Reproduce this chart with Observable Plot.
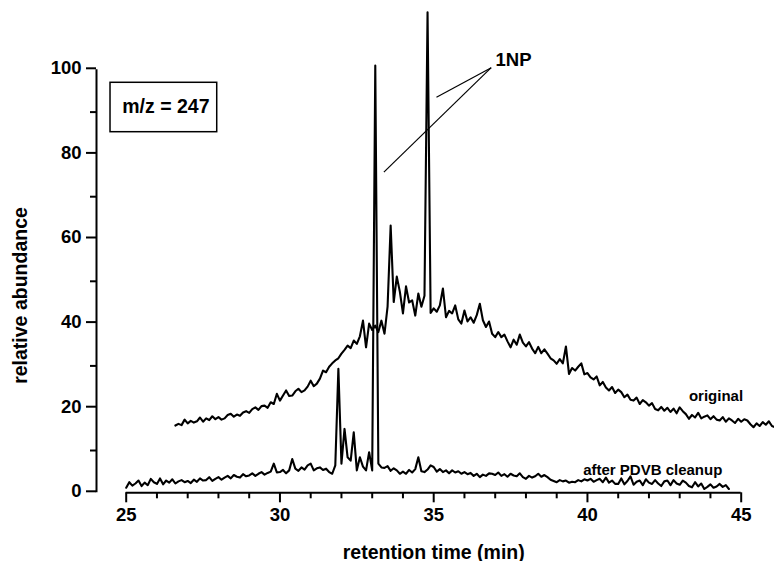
<!DOCTYPE html>
<html>
<head>
<meta charset="utf-8">
<script src="https://cdn.jsdelivr.net/npm/d3@7"></script>
<script src="https://cdn.jsdelivr.net/npm/@observablehq/plot@0.6"></script>
<style>
  html, body { margin: 0; padding: 0; background: #fff; }
</style>
</head>
<body>
<div id="chart"></div>
<script>
// ---- data ----
const sampleStep = 0.1;           // min between readings
const originalStart = 26.6;       // min
const cleanupStart = 25.0;        // min

// "original" trace, relative abundance every 0.1 min from 26.6 min
const originalValues = [
  15.9, 16.3, 16.0, 17.3,
  16.4, 17.0, 16.6, 16.9, 17.8, 16.8, 17.6, 17.2, 18.1, 17.4,
  17.9, 17.3, 17.6, 18.4, 18.7, 18.0, 18.5, 18.2, 19.0, 19.3,
  18.9, 19.8, 20.2, 19.6, 20.5, 20.6, 20.1, 21.4, 21.0, 23.4,
  21.8, 23.0, 24.2, 22.9, 23.0, 24.0, 24.6, 23.8, 24.2, 25.1,
  26.5, 25.2, 25.8, 27.0, 28.9, 28.5, 29.8, 30.6, 31.3, 31.8,
  32.9, 33.8, 34.8, 34.2, 36.0, 35.2, 37.0, 40.7, 34.4, 40.0,
  38.5, 39.5, 38.0, 40.7, 37.6, 44.0, 63.2, 45.1, 51.1, 47.5,
  42.4, 48.8, 45.0, 45.5, 41.9, 47.1, 44.0, 46.6, 113.6, 42.5,
  43.6, 42.8, 44.3, 48.3, 41.5, 43.0, 42.4, 44.3, 41.0, 40.0,
  43.1, 40.5, 41.5, 40.2, 42.0, 44.7, 40.8, 39.2, 40.5, 37.6,
  36.8, 38.0, 36.8, 37.4, 35.8, 34.4, 36.2, 35.0, 37.4, 35.5,
  34.6, 35.6, 34.1, 33.0, 34.5, 33.0, 33.9, 32.9, 31.8, 31.3,
  30.5, 31.6, 30.6, 34.6, 28.1, 29.5, 28.9, 29.8, 30.6, 28.0,
  28.3, 27.3, 26.8, 27.5, 25.4, 26.2, 24.9, 24.2, 25.0, 23.6,
  24.4, 23.8, 22.6, 23.2, 22.0, 21.8, 22.5, 21.0, 21.9, 21.4,
  20.6, 21.2, 19.8, 19.5, 20.3, 19.4, 20.1, 19.1, 19.9, 18.8,
  20.2, 19.3, 18.6, 17.5, 18.4, 17.8, 18.9, 17.6, 18.0, 18.3,
  17.4, 18.1, 17.3, 17.1, 17.9, 16.8, 17.6, 17.1, 16.5, 17.5,
  16.8, 17.4, 17.1, 16.2, 15.5, 16.4, 15.8, 16.7, 16.1, 16.9,
  15.8, 15.5
];

// "after PDVB cleanup" trace, relative abundance every 0.1 min from 25.0 min
const cleanupValues = [
  1.2, 2.5, 1.7, 2.2, 2.9, 1.6, 2.4, 1.8, 3.3, 2.5,
  2.1, 3.4, 2.0, 2.9, 2.4, 3.2, 2.2, 2.7, 3.0, 2.5,
  2.8, 2.3, 3.1, 2.6, 3.4, 2.9, 3.0, 3.7, 2.8, 3.3,
  3.7, 3.1, 3.6, 4.0, 3.4, 4.2, 3.8, 3.6, 4.4, 3.9,
  4.1, 4.6, 4.0, 4.5, 4.9, 4.3, 4.7, 5.0, 6.9, 4.8,
  4.9, 5.4, 4.6, 5.3, 8.0, 5.7, 5.2, 6.0, 5.5, 6.5,
  6.9, 5.3, 5.8, 6.0, 5.4, 5.7, 4.9, 4.5, 6.5, 29.3,
  6.9, 15.1, 8.4, 7.6, 14.3, 5.3, 8.4, 6.2, 5.3, 9.6,
  5.3, 101.0, 6.9, 6.0, 5.9, 6.3, 5.2, 5.8, 5.3, 4.5,
  5.0, 4.5, 5.4, 4.8, 5.6, 8.4, 5.1, 4.9, 5.5, 6.5,
  6.1, 5.0, 5.6, 4.9, 5.3, 4.6, 5.3, 4.8, 5.1, 4.5,
  4.9, 4.4, 4.7, 4.0, 4.5, 3.7, 4.3, 4.0, 4.6, 4.5,
  4.2, 4.8, 4.0, 4.4, 3.8, 4.5, 4.1, 3.9, 4.6, 3.7,
  3.3, 4.0, 3.6, 3.9, 4.5, 3.8, 4.2, 3.7, 3.1, 2.8,
  2.5, 3.0, 2.7, 2.9, 2.4, 2.6, 2.5, 3.0, 2.7, 3.2,
  2.9, 3.3, 2.6, 3.0, 3.3, 2.5, 3.6, 2.4, 2.9, 2.1,
  2.1, 3.4, 2.0, 2.8, 3.9, 1.9, 2.6, 2.9, 1.8, 3.2,
  2.4, 2.1, 3.0, 2.2, 1.6, 2.7, 2.9, 1.8, 3.0, 2.2,
  1.9, 2.9, 2.4, 1.6, 1.3, 2.5, 1.5, 2.2, 0.9, 1.4,
  2.0, 1.2, 1.5, 2.1, 1.4, 1.8, 0.9
];

const xMajorTicks = [25, 30, 35, 40, 45];
const xMinorTicks = [26, 27, 28, 29, 31, 32, 33, 34, 36, 37, 38, 39, 41, 42, 43, 44];
const yMajorTicks = [0, 20, 40, 60, 80, 100];
const yMinorTicks = [10, 30, 50, 70, 90];

const seriesLabels = ["original", "after PDVB cleanup"];
const seriesLabelTimes = [43.30, 39.86];
const seriesLabelValues = [21.8, 4.3];

const peakLabel = "1NP";
const peakLabelTime = 37.01, peakLabelValue = 100.85;
const pointerFromTime = 36.87, pointerFromValue = 100.5;
const pointerToTimes = [35.09, 33.38];
const pointerToValues = [93.5, 75.8];

const ionLabel = "m/z = 247";
const ionLabelTime = 26.29, ionLabelValue = 89.7;
const ionBox = {t1: 24.49, t2: 27.96, v1: 85.25, v2: 96.93};

const xTitle = "retention time (min)";
const yTitle = "relative abundance";

// ---- build tables ----
const toRows = (values, start) =>
  values.map((v, i) => ({t: Math.round((start + i * sampleStep) * 100) / 100, v}));
const originalRows = toRows(originalValues, originalStart);
const cleanupRows = toRows(cleanupValues, cleanupStart);
const labelRows = seriesLabels.map((s, i) => ({s, t: seriesLabelTimes[i], v: seriesLabelValues[i]}));
const pointerRows = pointerToTimes.map((t, i) => ({t1: pointerFromTime, v1: pointerFromValue, t2: t, v2: pointerToValues[i]}));

const font = "'Liberation Sans', Arial, Helvetica, sans-serif";
const yAxisShift = -29.7;
const noText = () => "";

const chart = Plot.plot({
  width: 774,
  height: 561,
  marginLeft: 125.7,
  marginRight: 33.3,
  marginTop: 69.3,
  marginBottom: 68.7,
  style: {fontFamily: font, fontWeight: "bold", color: "#000", background: "#fff", overflow: "visible"},
  x: {domain: [25, 45], label: null},
  y: {domain: [0, 100], label: null},
  marks: [
    // axes
    Plot.ruleX([25], {y1: 0, y2: 100, dx: yAxisShift, strokeWidth: 2}),
    Plot.ruleY([0], {x1: 25, x2: 45, strokeWidth: 2}),
    Plot.axisY({ticks: yMajorTicks, tickSize: 10, tickPadding: 5, dx: yAxisShift, dy: -1.5,
      fontSize: 18.5, fontWeight: "bold", strokeWidth: 2, label: null}),
    Plot.axisY({ticks: yMinorTicks, tickSize: 6, dx: yAxisShift, tickFormat: noText, strokeWidth: 2, label: null}),
    Plot.axisX({ticks: xMajorTicks, tickSize: 10, tickPadding: 5,
      fontSize: 18.5, fontWeight: "bold", strokeWidth: 2, label: null}),
    Plot.axisX({ticks: xMinorTicks, tickSize: 6, tickFormat: noText, strokeWidth: 2, label: null}),
    // traces
    Plot.line(originalRows, {x: "t", y: "v", stroke: "#000", strokeWidth: 2.1}),
    Plot.line(cleanupRows, {x: "t", y: "v", stroke: "#000", strokeWidth: 2.1}),
    // series labels
    Plot.text(labelRows, {x: "t", y: "v", text: "s", textAnchor: "start", lineAnchor: "bottom",
      fontSize: 15, fontWeight: "bold", fill: "#000"}),
    // 1NP annotation
    Plot.link(pointerRows, {x1: "t1", y1: "v1", x2: "t2", y2: "v2", stroke: "#000", strokeWidth: 1.2}),
    Plot.text([peakLabel], {x: peakLabelTime, y: peakLabelValue, text: d => d, textAnchor: "start",
      lineAnchor: "bottom", fontSize: 18.5, fontWeight: "bold", fill: "#000"}),
    // m/z box
    Plot.rect([ionBox], {x1: "t1", x2: "t2", y1: "v1", y2: "v2", fill: "none", stroke: "#000", strokeWidth: 1.5}),
    Plot.text([ionLabel], {x: ionLabelTime, y: ionLabelValue, text: d => d, textAnchor: "middle",
      lineAnchor: "bottom", fontSize: 19.5, fontWeight: "bold", fill: "#000"}),
    // axis titles
    Plot.text([yTitle], {frameAnchor: "left", text: d => d, rotate: -90, dx: -105.7, dy: 14.2,
      textAnchor: "middle", lineAnchor: "middle", fontSize: 19.5, fontWeight: "bold", fill: "#000"}),
    Plot.text([xTitle], {frameAnchor: "bottom", text: d => d, textAnchor: "middle", lineAnchor: "bottom", dy: 65.7,
      fontSize: 19.5, fontWeight: "bold", fill: "#000"})
  ]
});
document.getElementById("chart").appendChild(chart);
</script>
</body>
</html>
